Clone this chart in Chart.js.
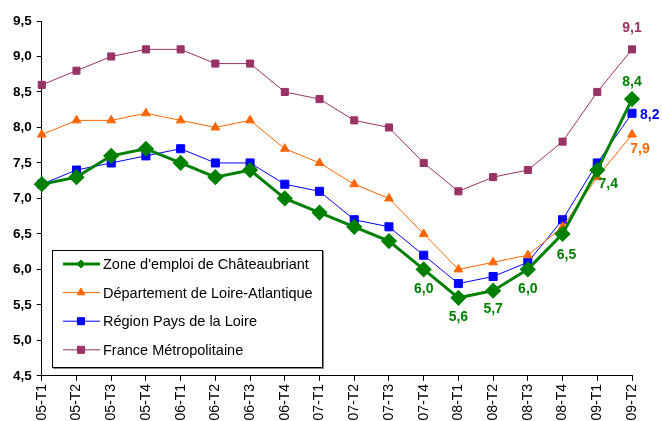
<!DOCTYPE html>
<html lang="fr">
<head>
<meta charset="UTF-8">
<title>Taux de chômage</title>
<script src="https://cdn.jsdelivr.net/npm/chart.js"></script>
<style>
    body { margin: 0; padding: 0; background: #fff; overflow: hidden; }
    .wrap { position: absolute; left: 0; top: 0; width: 662px; height: 439px; }
</style>
</head>
<body>
<div class="wrap"><canvas id="chomage"></canvas></div>
<script>
// Trimestres
const trimestres = ['2005-T1','2005-T2','2005-T3','2005-T4','2006-T1','2006-T2','2006-T3','2006-T4',
    '2007-T1','2007-T2','2007-T3','2007-T4','2008-T1','2008-T2','2008-T3','2008-T4','2009-T1','2009-T2'];

// Taux de chômage (%)
const chateaubriant = [7.2, 7.3, 7.6, 7.7, 7.5, 7.3, 7.4, 7.0, 6.8, 6.6, 6.4, 6.0, 5.6, 5.7, 6.0, 6.5, 7.4, 8.4];
const loireAtlantique = [7.9, 8.1, 8.1, 8.2, 8.1, 8.0, 8.1, 7.7, 7.5, 7.2, 7.0, 6.5, 6.0, 6.1, 6.2, 6.6, 7.3, 7.9];
const paysDeLaLoire = [7.2, 7.4, 7.5, 7.6, 7.7, 7.5, 7.5, 7.2, 7.1, 6.7, 6.6, 6.2, 5.8, 5.9, 6.1, 6.7, 7.5, 8.2];
const franceMetro = [8.6, 8.8, 9.0, 9.1, 9.1, 8.9, 8.9, 8.5, 8.4, 8.1, 8.0, 7.5, 7.1, 7.3, 7.4, 7.8, 8.5, 9.1];

// Axe des ordonnées
const yMin = 4.5, yMax = 9.5, yPas = 0.5;

const fmt = v => v.toFixed(1).replace('.', ',');
const police = '"Liberation Sans", Arial, sans-serif';

// étiquettes de valeurs : [dataset, index, dx, dy, align]
const etiquettes = [
    [0, 11, 0, 20, 'center'], [0, 12, 0, 19, 'center'], [0, 13, 0, 18, 'center'],
    [0, 14, 0, 20, 'center'], [0, 15, 4, 21, 'center'], [0, 16, 11, 14, 'center'],
    [0, 17, 0, -17, 'center'],
    [1, 17, 8, 15, 'center'],
    [2, 17, 8, 2, 'left'],
    [3, 17, 0, -21, 'center']
];

const valeursPlugin = {
    id: 'valeurs',
    afterDatasetsDraw(chart) {
        const ctx = chart.ctx;
        ctx.save();
        ctx.font = 'bold 14px ' + police;
        ctx.textBaseline = 'middle';
        etiquettes.forEach(([d, i, dx, dy, align]) => {
            const pt = chart.getDatasetMeta(d).data[i];
            const ds = chart.data.datasets[d];
            ctx.fillStyle = ds.borderColor;
            ctx.textAlign = align;
            ctx.fillText(fmt(ds.data[i]), pt.x + dx, pt.y + dy);
        });
        ctx.restore();
    }
};

const legendePlugin = {
    id: 'legende',
    afterDraw(chart) {
        const ctx = chart.ctx;
        const x0 = 52, y0 = 250, w = 270, h = 117;
        ctx.save();
        ctx.fillStyle = '#888';
        ctx.fillRect(x0 + 1, y0 + 1, w + 1, h + 1);
        ctx.fillStyle = '#fff';
        ctx.fillRect(x0, y0, w, h);
        ctx.strokeStyle = '#000';
        ctx.lineWidth = 1;
        ctx.strokeRect(x0 + 0.5, y0 + 0.5, w, h);
        ctx.font = '14.5px ' + police;
        ctx.textBaseline = 'middle';
        chart.data.datasets.forEach((ds, k) => {
            const y = 264 + k * 28.6;
            ctx.strokeStyle = ds.borderColor;
            ctx.lineWidth = ds.borderWidth;
            ctx.beginPath();
            ctx.moveTo(63, y);
            ctx.lineTo(100, y);
            ctx.stroke();
            ctx.fillStyle = ds.backgroundColor;
            ctx.lineWidth = 1;
            Chart.helpers.drawPoint(ctx, { pointStyle: ds.pointStyle, radius: ds.legendRadius, rotation: 0, borderWidth: 1 }, 81, y);
            ctx.fillStyle = '#000';
            ctx.textAlign = 'left';
            ctx.fillText(ds.label, 103, y + 1);
        });
        ctx.restore();
    }
};

new Chart(document.getElementById('chomage'), {
    type: 'line',
    data: {
        labels: trimestres,
        datasets: [
            { label: "Zone d'emploi de Châteaubriant", data: chateaubriant, borderColor: '#008000', backgroundColor: '#008000',
              borderWidth: 3, pointStyle: 'rectRot', pointRadius: 6, legendRadius: 4 },
            { label: 'Département de Loire-Atlantique', data: loireAtlantique, borderColor: '#FF6600', backgroundColor: '#FF6600',
              borderWidth: 1, pointStyle: 'triangle', pointRadius: 5, legendRadius: 4.5 },
            { label: 'Région Pays de la Loire', data: paysDeLaLoire, borderColor: '#0000FF', backgroundColor: '#0000FF',
              borderWidth: 1, pointStyle: 'rect', pointRadius: 5.7, legendRadius: 5 },
            { label: 'France Métropolitaine', data: franceMetro, borderColor: '#993366', backgroundColor: '#993366',
              borderWidth: 1, pointStyle: 'rect', pointRadius: 5, legendRadius: 5 }
        ]
    },
    options: {
        responsive: true,
        maintainAspectRatio: false,
        animation: false,
        layout: { padding: { left: 8, right: 30, top: 21, bottom: 0 } },
        elements: { line: { tension: 0 }, point: { borderWidth: 1 } },
        plugins: { legend: { display: false }, tooltip: { enabled: false } },
        scales: {
            x: {
                offset: false,
                grid: { drawOnChartArea: false, drawTicks: true, tickLength: 5, color: '#000' },
                border: { color: '#000', width: 1 },
                ticks: {
                    color: '#000', autoSkip: false, minRotation: 90, maxRotation: 90, padding: 3,
                    font: { family: police, size: 14 }
                }
            },
            y: {
                min: yMin, max: yMax,
                grid: { drawOnChartArea: false, drawTicks: true, tickLength: 5, color: '#000' },
                border: { color: '#000', width: 1 },
                ticks: {
                    stepSize: yPas, color: '#000', padding: 5,
                    font: { family: police, size: 13.5, weight: 'bold' },
                    callback: v => fmt(v)
                }
            }
        }
    },
    plugins: [valeursPlugin, legendePlugin]
});
</script>
</body>
</html>
